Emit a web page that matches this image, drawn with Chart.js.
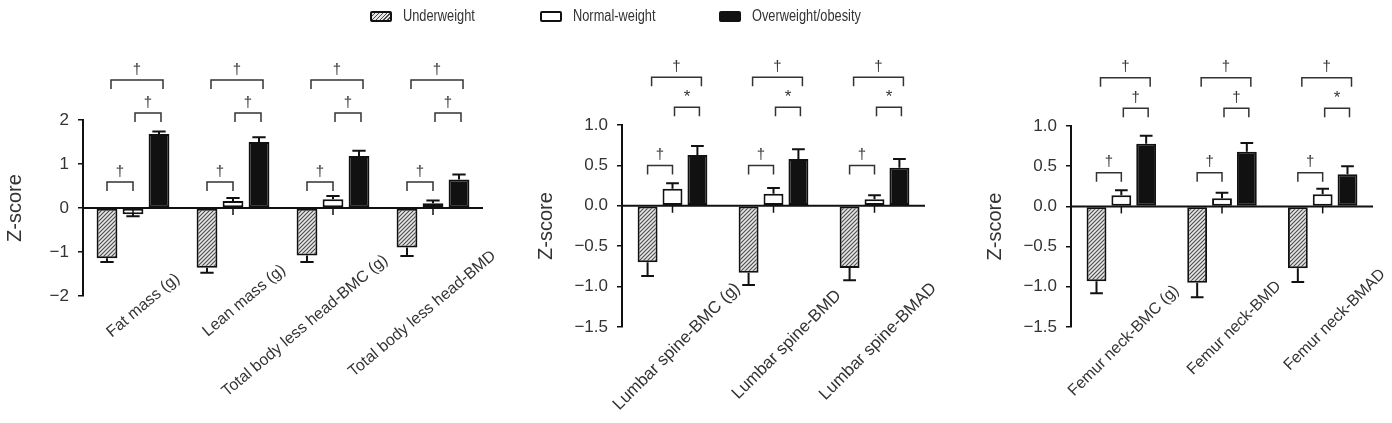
<!DOCTYPE html>
<html>
<head>
<meta charset="utf-8">
<title>Z-score by weight status</title>
<script src="https://cdn.jsdelivr.net/npm/chart.js@4.4.1/dist/chart.umd.min.js"></script>
<style>
  html, body { margin: 0; padding: 0; background: #fff; }
  #wrap { position: relative; width: 1392px; height: 423px; overflow: hidden; font-family: 'Liberation Sans', Arial, sans-serif; }
  #wrap canvas { position: absolute; left: 0; top: 0; }
  .legend-item { position: absolute; top: 6px; height: 20px; display: flex; align-items: center; font-size: 16px; color: #333; white-space: nowrap; }
  .legend-item .txt { display: inline-block; transform: scaleX(0.8); transform-origin: left center; }
  .swatch { box-sizing: border-box; width: 22px; height: 11px; border: 2px solid #111; border-radius: 2px; margin-right: 11px; }
</style>
</head>
<body>
<div id="wrap">
  <canvas id="body-chart" width="1392" height="423"></canvas>
  <canvas id="spine-chart" width="1392" height="423"></canvas>
  <canvas id="femur-chart" width="1392" height="423"></canvas>
  <div id="legend"></div>
</div>
<script>
// ---- data ----
const legendLabels = ['Underweight', 'Normal-weight', 'Overweight/obesity'];

// body composition panel
const bodyCategories = ['Fat mass (g)', 'Lean mass (g)', 'Total body less head-BMC (g)', 'Total body less head-BMD'];
const bodyUnder = [-1.14, -1.36, -1.08, -0.90];
const bodyUnderErr = [0.09, 0.11, 0.15, 0.19];
const bodyNormal = [-0.14, 0.16, 0.20, 0.11];
const bodyNormalErr = [0.05, 0.07, 0.07, 0.06];
const bodyOver = [1.68, 1.50, 1.18, 0.65];
const bodyOverErr = [0.06, 0.11, 0.12, 0.11];
const bodyTicks = [-2, -1, 0, 1, 2];
const bodyBracketLevels = [0.59, 2.16, 2.91]; // under-normal, normal-over, under-over
const bodySigLow = ['†', '†', '†', '†'];
const bodySigMid = ['†', '†', '†', '†'];
const bodySigTop = ['†', '†', '†', '†'];

// lumbar spine panel
const spineCategories = ['Lumbar spine-BMC (g)', 'Lumbar spine-BMD', 'Lumbar spine-BMAD'];
const spineUnder = [-0.70, -0.83, -0.77];
const spineUnderErr = [0.17, 0.15, 0.15];
const spineNormal = [0.21, 0.15, 0.08];
const spineNormalErr = [0.07, 0.07, 0.05];
const spineOver = [0.63, 0.58, 0.47];
const spineOverErr = [0.11, 0.12, 0.11];
const spineBracketLevels = [0.50, 1.22, 1.59];
const spineSigLow = ['†', '†', '†'];
const spineSigMid = ['*', '*', '*'];
const spineSigTop = ['†', '†', '†'];

// femur neck panel
const femurCategories = ['Femur neck-BMC (g)', 'Femur neck-BMD', 'Femur neck-BMAD'];
const femurUnder = [-0.93, -0.95, -0.77];
const femurUnderErr = [0.15, 0.18, 0.17];
const femurNormal = [0.14, 0.10, 0.15];
const femurNormalErr = [0.06, 0.07, 0.07];
const femurOver = [0.78, 0.68, 0.40];
const femurOverErr = [0.10, 0.11, 0.10];
const femurBracketLevels = [0.42, 1.22, 1.60];
const femurSigLow = ['†', '†', '†'];
const femurSigMid = ['†', '†', '*'];
const femurSigTop = ['†', '†', '†'];

const boneTicks = [-1.5, -1.0, -0.5, 0, 0.5, 1.0];

// ---- styles ----
const FONT = "'Liberation Sans', Arial, sans-serif";
const TEXT = '#333';
const INK = '#111';
const TITLE_SIZE = 20;
Chart.defaults.font.family = FONT;
Chart.defaults.color = TEXT;

function makeHatch() {
    const c = document.createElement('canvas');
    c.width = 4; c.height = 4;
    const g = c.getContext('2d');
    g.fillStyle = '#e6e6e6';
    g.fillRect(0, 0, 4, 4);
    g.strokeStyle = '#4a4a4a';
    g.lineWidth = 1.1;
    g.beginPath();
    g.moveTo(0, 4); g.lineTo(4, 0);
    g.moveTo(-1, 1); g.lineTo(1, -1);
    g.moveTo(3, 5); g.lineTo(5, 3);
    g.stroke();
    return g.createPattern(c, 'repeat');
}
const hatch = makeHatch();

function minusFmt(v, decimals) {
    const s = Math.abs(v).toFixed(decimals);
    return v < 0 ? '\u2212' + s : s;
}

// legend (html, spans all three panels)
const legendLeft = [370, 540, 719];
const legendFill = [
    'repeating-linear-gradient(135deg, #e6e6e6 0 1.5px, #4a4a4a 1.5px 2.8px)',
    '#fff',
    INK
];
legendLabels.forEach((label, i) => {
    const item = document.createElement('div');
    item.className = 'legend-item';
    item.style.left = legendLeft[i] + 'px';
    const sw = document.createElement('span');
    sw.className = 'swatch';
    sw.style.background = legendFill[i];
    const tx = document.createElement('span');
    tx.className = 'txt';
    tx.textContent = label;
    item.appendChild(sw);
    item.appendChild(tx);
    document.getElementById('legend').appendChild(item);
});

// error bars, zero axis, category labels and significance brackets
const extrasPlugin = {
    id: 'extras',
    afterDatasetsDraw(chart) {
        const ctx = chart.ctx;
        const y = chart.scales.y;
        const area = chart.chartArea;
        const zero = y.getPixelForValue(0);

        // error bars (one-sided, away from zero)
        ctx.save();
        ctx.strokeStyle = INK;
        ctx.lineWidth = 2;
        chart.data.datasets.forEach((ds, di) => {
            const meta = chart.getDatasetMeta(di);
            meta.data.forEach((bar, i) => {
                const v = ds.data[i];
                const e = ds.errors[i];
                const end = y.getPixelForValue(v + Math.sign(v) * e);
                const cap = bar.width * 0.32;
                ctx.beginPath();
                ctx.moveTo(bar.x, bar.y);
                ctx.lineTo(bar.x, end);
                ctx.moveTo(bar.x - cap, end);
                ctx.lineTo(bar.x + cap, end);
                ctx.stroke();
            });
        });

        // x axis at zero with ticks at category centres
        ctx.lineWidth = 2;
        ctx.beginPath();
        ctx.moveTo(area.left, zero);
        ctx.lineTo(area.right, zero);
        ctx.stroke();
        ctx.lineWidth = 1.5;
        const x = chart.scales.x;
        chart.data.labels.forEach((lab, i) => {
            const cx = x.getPixelForValue(i);
            ctx.beginPath();
            ctx.moveTo(cx, zero);
            ctx.lineTo(cx, zero + 7);
            ctx.stroke();
        });
        ctx.restore();
    },
    afterDraw(chart, args, opts) {
        const ctx = chart.ctx;
        const x = chart.scales.x;
        const y = chart.scales.y;
        const zero = y.getPixelForValue(0);
        const th = opts.labelAngle * Math.PI / 180;
        const cs = Math.cos(th), sn = Math.sin(th);

        // rotated category labels (anchored at their top-right corner)
        ctx.save();
        ctx.fillStyle = TEXT;
        ctx.font = opts.labelSize + 'px ' + FONT;
        ctx.textAlign = 'right';
        ctx.textBaseline = 'top';
        chart.data.labels.forEach((lab, i) => {
            const cx = x.getPixelForValue(i);
            const a = opts.labelAlong[i] || 0;
            const p = opts.labelPerp[i] || 0;
            ctx.save();
            ctx.translate(cx + opts.labelDx + a * cs + p * sn, zero + opts.labelDy - a * sn + p * cs);
            ctx.rotate(-th);
            ctx.fillText(lab, 0, 0);
            ctx.restore();
        });
        ctx.restore();

        // significance brackets
        const metas = [0, 1, 2].map(d => chart.getDatasetMeta(d));
        const levels = opts.levels.map(v => y.getPixelForValue(v));
        const leg = 9;
        ctx.save();
        ctx.strokeStyle = '#333';
        ctx.lineWidth = 1.5;
        ctx.fillStyle = TEXT;
        ctx.textAlign = 'center';
        ctx.textBaseline = 'bottom';
        const bracket = (x1, x2, py, sym) => {
            ctx.beginPath();
            ctx.moveTo(x1, py + leg);
            ctx.lineTo(x1, py);
            ctx.lineTo(x2, py);
            ctx.lineTo(x2, py + leg);
            ctx.stroke();
            ctx.font = (sym === '*' ? '17px ' : '15px ') + FONT;
            ctx.fillText(sym, (x1 + x2) / 2, py - (sym === '*' ? 1 : 3));
        };
        chart.data.labels.forEach((lab, i) => {
            const xu = metas[0].data[i].x;
            const xn = metas[1].data[i].x;
            const xo = metas[2].data[i].x;
            bracket(xu, xn, levels[0], opts.sigLow[i]);
            bracket(xn + 2, xo + 2, levels[1], opts.sigMid[i]);
            bracket(xu + 4, xo + 4, levels[2], opts.sigTop[i]);
        });
        ctx.restore();
    }
};

function makePanel(canvasId, p) {
    const titleHalf = TITLE_SIZE * 1.2 / 2;
    return new Chart(document.getElementById(canvasId), {
        type: 'bar',
        data: {
            labels: p.categories,
            datasets: [
                { label: legendLabels[0], data: p.under, errors: p.underErr, backgroundColor: hatch },
                { label: legendLabels[1], data: p.normal, errors: p.normalErr, backgroundColor: '#fff' },
                { label: legendLabels[2], data: p.over, errors: p.overErr, backgroundColor: INK }
            ]
        },
        plugins: [extrasPlugin],
        options: {
            responsive: false,
            animation: false,
            events: [],
            layout: {
                padding: { left: p.titleX - titleHalf, right: 1392 - p.right, top: p.top, bottom: 423 - p.bottom }
            },
            datasets: {
                bar: {
                    categoryPercentage: p.catPct,
                    barPercentage: 0.8,
                    borderColor: INK,
                    borderWidth: 2,
                    borderSkipped: false
                }
            },
            plugins: {
                legend: { display: false },
                tooltip: { enabled: false },
                extras: {
                    labelSize: p.label.size,
                    labelAngle: p.label.angle,
                    labelDx: p.label.dx,
                    labelDy: p.label.dy,
                    labelAlong: p.label.along,
                    labelPerp: p.label.perp,
                    levels: p.levels,
                    sigLow: p.sigLow,
                    sigMid: p.sigMid,
                    sigTop: p.sigTop
                }
            },
            scales: {
                x: { display: false },
                y: {
                    min: p.ticks[0],
                    max: p.ticks[p.ticks.length - 1],
                    afterBuildTicks: s => { s.ticks = p.ticks.map(v => ({ value: v })); },
                    afterFit: s => { s.width = p.axisX - (p.titleX - titleHalf); },
                    ticks: {
                        padding: 9,
                        color: TEXT,
                        font: { size: 17 },
                        callback: v => minusFmt(v, p.decimals)
                    },
                    grid: { display: true, drawOnChartArea: false, drawTicks: true, tickLength: 5, color: INK, lineWidth: 1.5 },
                    border: { display: true, color: INK, width: 2 },
                    title: { display: true, text: 'Z-score', color: TEXT, font: { size: TITLE_SIZE }, padding: 0 }
                }
            }
        }
    });
}

makePanel('body-chart', {
    categories: bodyCategories,
    under: bodyUnder, underErr: bodyUnderErr,
    normal: bodyNormal, normalErr: bodyNormalErr,
    over: bodyOver, overErr: bodyOverErr,
    ticks: bodyTicks, decimals: 0,
    levels: bodyBracketLevels, sigLow: bodySigLow, sigMid: bodySigMid, sigTop: bodySigTop,
    titleX: 15, axisX: 83, right: 483, top: 120, bottom: 296, catPct: 0.78,
    label: { size: 16, angle: 40, dx: 39.5, dy: 62.5, along: [0, 10, 18, 27], perp: [0, -3, -9, -7] }
});

makePanel('spine-chart', {
    categories: spineCategories,
    under: spineUnder, underErr: spineUnderErr,
    normal: spineNormal, normalErr: spineNormalErr,
    over: spineOver, overErr: spineOverErr,
    ticks: boneTicks, decimals: 1,
    levels: spineBracketLevels, sigLow: spineSigLow, sigMid: spineSigMid, sigTop: spineSigTop,
    titleX: 546, axisX: 622, right: 925, top: 125, bottom: 327, catPct: 0.74,
    label: { size: 17, angle: 45, dx: 59, dy: 74, along: [0, -5, -4], perp: [0, 5, -4] }
});

makePanel('femur-chart', {
    categories: femurCategories,
    under: femurUnder, underErr: femurUnderErr,
    normal: femurNormal, normalErr: femurNormalErr,
    over: femurOver, overErr: femurOverErr,
    ticks: boneTicks, decimals: 1,
    levels: femurBracketLevels, sigLow: femurSigLow, sigMid: femurSigMid, sigTop: femurSigTop,
    titleX: 995, axisX: 1071, right: 1373, top: 126, bottom: 327, catPct: 0.74,
    label: { size: 16, angle: 45, dx: 49.5, dy: 76, along: [0, 4, 15], perp: [0, -2, -8] }
});
</script>
</body>
</html>
